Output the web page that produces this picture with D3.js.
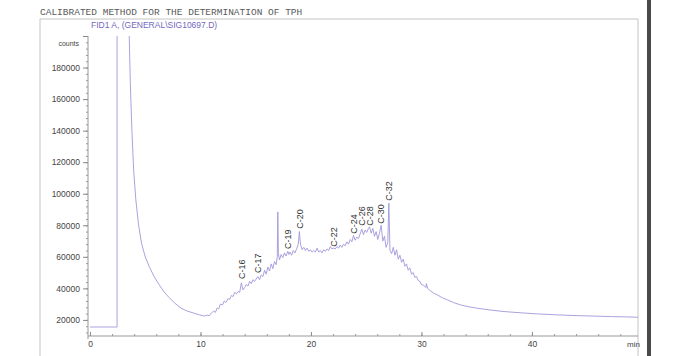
<!DOCTYPE html>
<html>
<head>
<meta charset="utf-8">
<script src="https://cdn.jsdelivr.net/npm/d3@7"></script>
<style>
  body { margin: 0; background: #fff; }
  svg { display: block; }
</style>
</head>
<body>
<div id="chart"></div>
<script>
// chromatogram signal, [time in min, counts]
var signal = [
  [0, 15500], [2.45, 15500], [2.46, 900000], [3.45, 900000], [3.55, 200000], [3.65, 170000],
  [3.79, 140600], [3.95, 115000], [4.15, 96000], [4.4, 80000], [4.66, 68700], [5.0, 60000],
  [5.36, 53800], [5.8, 47500], [6.27, 42200], [6.7, 37800], [7.18, 34000], [7.7, 30500],
  [8.25, 27400], [8.8, 25600], [9.45, 24200], [9.9, 23200], [10.36, 22500], [10.6, 23000],
  [10.8, 22700], [11.0, 24500], [11.2, 25500], [11.35, 24800], [11.5, 27500], [11.65, 27000],
  [11.8, 30000], [12.0, 29500], [12.15, 32000], [12.3, 31000], [12.5, 33500], [12.65, 33000],
  [12.8, 35500], [12.95, 34800], [13.1, 37500], [13.25, 36500], [13.4, 38000], [13.55, 37500],
  [13.7, 43500], [13.85, 39000], [14.0, 40500], [14.15, 42500], [14.3, 41500], [14.45, 44500],
  [14.6, 43000], [14.75, 45500], [14.9, 44500], [15.05, 46000], [15.2, 47500], [15.35, 45500],
  [15.5, 48500], [15.65, 47500], [15.8, 51500], [15.95, 49000], [16.1, 53500], [16.25, 51000],
  [16.4, 55500], [16.55, 52500], [16.7, 57000], [16.85, 55000], [16.95, 60000], [17.0, 88500],
  [17.05, 62000], [17.15, 58000], [17.3, 61500], [17.45, 59500], [17.6, 62500], [17.75, 60500],
  [17.9, 63500], [18.0, 61500], [18.1, 63000], [18.25, 61000], [18.4, 64000], [18.55, 62500],
  [18.7, 65000], [18.85, 68000], [18.95, 76000], [19.05, 68000], [19.2, 64500], [19.35, 66000],
  [19.5, 64000], [19.65, 65500], [19.8, 63500], [19.95, 64500], [20.1, 63000], [20.25, 64000],
  [20.4, 63000], [20.55, 65500], [20.7, 63000], [20.85, 64000], [21.0, 62500], [21.15, 64500],
  [21.3, 63500], [21.45, 65000], [21.6, 64000], [21.75, 66500], [21.9, 65000], [22.05, 65500],
  [22.2, 65000], [22.35, 66500], [22.5, 65500], [22.65, 67500], [22.8, 66000], [22.95, 68000],
  [23.1, 67000], [23.25, 69500], [23.4, 68000], [23.55, 71000], [23.7, 69500], [23.85, 73500],
  [24.0, 70500], [24.15, 72500], [24.3, 71500], [24.45, 74500], [24.6, 77500], [24.75, 74000],
  [24.9, 77000], [25.05, 75500], [25.2, 78000], [25.3, 79000], [25.45, 75000], [25.6, 78000],
  [25.75, 73000], [25.9, 76000], [26.05, 71000], [26.2, 75000], [26.35, 80000], [26.5, 70000],
  [26.65, 73000], [26.8, 66000], [26.95, 69000], [27.05, 94000], [27.15, 64000], [27.3, 62000],
  [27.45, 66000], [27.6, 61000], [27.75, 64500], [27.9, 58500], [28.05, 61000], [28.2, 56500],
  [28.35, 58500], [28.5, 54000], [28.65, 55500], [28.8, 51500], [28.95, 53000], [29.1, 49000],
  [29.25, 50000], [29.4, 47000], [29.55, 47500], [29.7, 45000], [29.85, 44500], [30.0, 42500],
  [30.2, 42000], [30.4, 40500], [30.45, 43000], [30.55, 40000], [30.8, 38500], [31.1, 37000],
  [31.43, 35900], [31.9, 34000], [32.34, 32700], [32.9, 31000], [33.55, 29500], [34.3, 28300],
  [35.06, 27400], [36.2, 26300], [37.48, 25300], [39, 24500], [40.5, 23800], [42.3, 23200],
  [44.15, 22700], [45.7, 22400], [47.2, 22100], [48.6, 21900], [49.6, 21700]
];

// labelled peaks
var peakNames = ["C-16", "C-17", "C-19", "C-20", "C-22", "C-24", "C-26", "C-28", "C-30", "C-32"];
var peakTimes = [13.7, 15.2, 17.9, 18.95, 22.05, 23.85, 24.6, 25.3, 26.35, 27.05];
var peakHeights = [44100, 47900, 63000, 75900, 64500, 72700, 77800, 77800, 79100, 93700];

var yTicks = [20000, 40000, 60000, 80000, 100000, 120000, 140000, 160000, 180000];
var xTicks = [0, 10, 20, 30, 40];

var width = 673, height = 356;
var plot = { left: 89, right: 638, top: 36, bottom: 336 };

var svg = d3.select('#chart').append('svg')
    .attr('width', width)
    .attr('height', height);

var xScale = d3.scaleLinear().domain([0, 49.6]).range([90, plot.right]);
var yScale = d3.scaleLinear().domain([9800, 200000]).range([plot.bottom, plot.top]);

// paper frame
svg.append('path')
    .attr('d', 'M40,' + height + 'V19H' + plot.right + 'V' + height)
    .attr('fill', 'none')
    .attr('stroke', '#c4c4c4')
    .attr('stroke-width', 1);
// scan edge
svg.append('rect')
    .attr('x', 647).attr('y', 0).attr('width', 4).attr('height', height)
    .attr('fill', '#4a4a4a');

svg.append('text')
    .attr('x', 40).attr('y', 15)
    .attr('font-family', 'Liberation Mono, DejaVu Sans Mono, monospace')
    .attr('font-size', '9.5px')
    .attr('fill', '#5a5a5a')
    .text('CALIBRATED METHOD FOR THE DETERMINATION OF TPH');

svg.append('text')
    .attr('x', 91).attr('y', 28)
    .attr('font-family', 'Liberation Sans, Arial, sans-serif')
    .attr('font-size', '8.5px')
    .attr('fill', '#7468c0')
    .text('FID1 A, (GENERAL\\SIG10697.D)');

svg.append('text')
    .attr('x', 79).attr('y', 46)
    .attr('text-anchor', 'end')
    .attr('font-family', 'Liberation Sans, Arial, sans-serif')
    .attr('font-size', '7px')
    .attr('fill', '#444')
    .text('counts');

// y axis
var yMinor = d3.range(12000, 200001, 4000);
svg.append('g')
    .attr('transform', 'translate(' + (plot.left - 1) + ',0)')
    .call(d3.axisLeft(yScale).tickValues(yMinor).tickSize(2).tickFormat(''))
    .call(function(g) { g.select('.domain').remove(); g.selectAll('line').attr('stroke', '#999'); });
svg.append('g')
    .attr('transform', 'translate(' + (plot.left - 1) + ',0)')
    .call(d3.axisLeft(yScale).tickValues(yTicks.concat([200000])).tickSize(5).tickPadding(3)
        .tickFormat(function(d) { return d == 200000 ? '' : d; }))
    .call(function(g) {
        g.select('.domain').remove();
        g.selectAll('line').attr('stroke', '#888');
        g.selectAll('text').attr('font-family', 'Liberation Sans, Arial, sans-serif')
            .attr('font-size', '8.5px').attr('fill', '#444');
    });
svg.append('line')
    .attr('x1', plot.left - 1).attr('x2', plot.left - 1)
    .attr('y1', yScale(200000)).attr('y2', plot.bottom + 3)
    .attr('stroke', '#999');

// x axis
svg.append('g')
    .attr('transform', 'translate(0,' + plot.bottom + ')')
    .call(d3.axisBottom(xScale).tickValues(d3.range(0, 49, 2)).tickSize(-2).tickFormat(''))
    .call(function(g) { g.select('.domain').remove(); g.selectAll('line').attr('stroke', '#999'); });
svg.append('g')
    .attr('transform', 'translate(0,' + plot.bottom + ')')
    .call(d3.axisBottom(xScale).tickValues(xTicks).tickSize(-4).tickPadding(5))
    .call(function(g) {
        g.select('.domain').remove();
        g.selectAll('line').attr('stroke', '#888');
        g.selectAll('text').attr('font-family', 'Liberation Sans, Arial, sans-serif')
            .attr('font-size', '8.5px').attr('fill', '#444');
    });
svg.append('line')
    .attr('x1', plot.left - 1).attr('x2', plot.right)
    .attr('y1', plot.bottom).attr('y2', plot.bottom)
    .attr('stroke', '#999');
svg.append('text')
    .attr('x', 640).attr('y', 347)
    .attr('text-anchor', 'end')
    .attr('font-family', 'Liberation Sans, Arial, sans-serif')
    .attr('font-size', '8px')
    .attr('fill', '#444')
    .text('min');

// trace
svg.append('clipPath').attr('id', 'clip')
    .append('rect')
    .attr('x', plot.left).attr('y', plot.top)
    .attr('width', plot.right - plot.left).attr('height', plot.bottom - plot.top);

var linePath = d3.line()
    .x(function(d) { return xScale(d[0]); })
    .y(function(d) { return yScale(d[1]); });

svg.append('path')
    .attr('clip-path', 'url(#clip)')
    .attr('d', linePath(signal))
    .attr('fill', 'none')
    .attr('stroke', '#a097da')
    .attr('stroke-width', 0.9);

// peak labels
svg.append('g')
    .selectAll('text')
    .data(peakNames)
    .enter()
    .append('text')
    .attr('transform', function(d, i) {
        return 'translate(' + xScale(peakTimes[i]) + ',' + (yScale(peakHeights[i]) - 3) + ') rotate(-90)';
    })
    .attr('dy', '0.35em')
    .attr('font-family', 'Liberation Sans, Arial, sans-serif')
    .attr('font-size', '9px')
    .attr('fill', '#333')
    .text(function(d) { return d; });
</script>
</body>
</html>
